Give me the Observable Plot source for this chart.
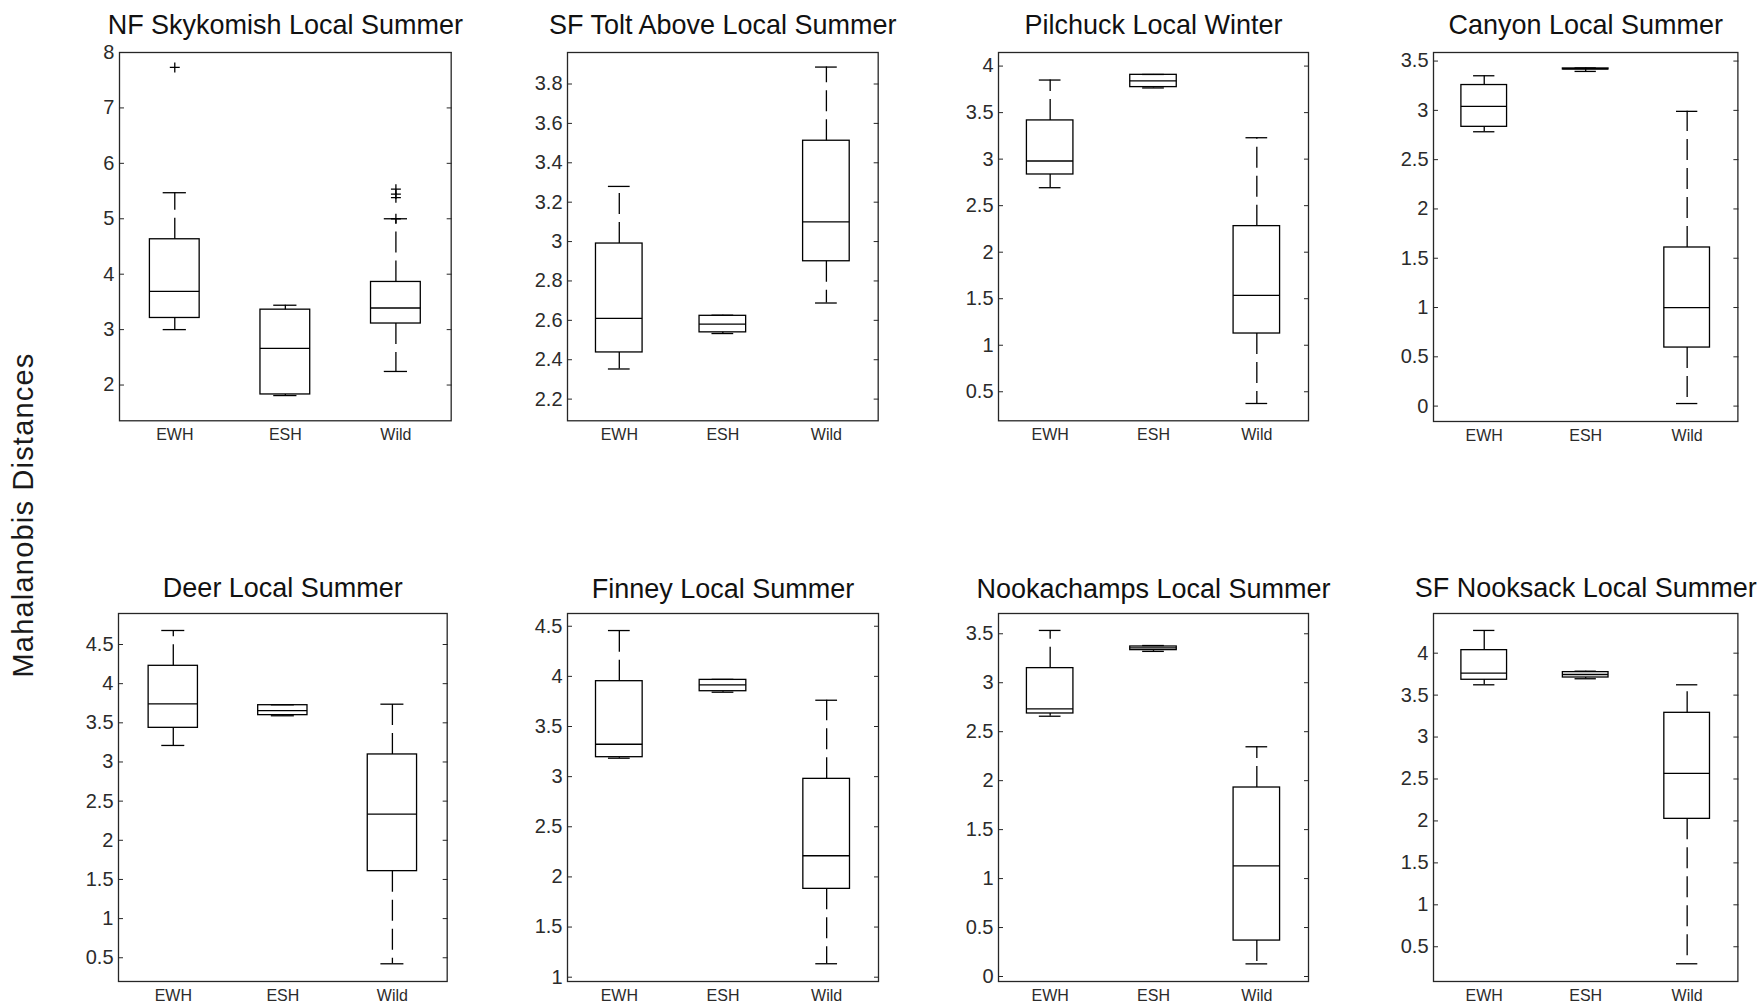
<!DOCTYPE html>
<html>
<head>
<meta charset="utf-8">
<script src="https://cdn.jsdelivr.net/npm/d3@7"></script>
<script src="https://cdn.jsdelivr.net/npm/@observablehq/plot@0.6"></script>
<style>
  html, body { margin: 0; padding: 0; background: #fff; overflow: hidden; }
  #chart { position: relative; width: 1759px; height: 1004px; background: #fff;
           font-family: "Liberation Sans", Arial, Helvetica, sans-serif; }
  #chart svg { position: absolute; }
  #ylabel { position: absolute; left: 23px; top: 515px; white-space: nowrap;
            transform: translate(-50%, -50%) rotate(-90deg);
            font-size: 29px; line-height: 1; letter-spacing: 1.2px; color: #1a1a1a; }
</style>
</head>
<body>
<div id="chart"><div id="ylabel">Mahalanobis Distances</div></div>
<script>
// Groups on every panel's x axis
const groups = ["EWH", "ESH", "Wild"];

// Panel titles (stock / run)
const titles = [
  "NF Skykomish Local Summer", "SF Tolt Above Local Summer",
  "Pilchuck Local Winter", "Canyon Local Summer",
  "Deer Local Summer", "Finney Local Summer",
  "Nookachamps Local Summer", "SF Nooksack Local Summer"
];

// Box statistics per panel, one value per group (EWH, ESH, Wild)
const whiskerLow = [
  [3.00, 1.81, 2.245], [2.353, 2.533, 2.688], [2.693, 3.765, 0.374], [2.783, 3.395, 0.026],
  [3.211, 3.590, 0.423], [3.184, 3.842, 1.134], [2.658, 3.320, 0.129], [3.623, 3.695, 0.297]
];
const quartile1 = [
  [3.21, 1.83, 3.11], [2.437, 2.539, 2.90], [2.835, 3.774, 1.126], [2.833, 3.415, 0.594],
  [3.436, 3.598, 1.606], [3.194, 3.852, 1.881], [2.686, 3.333, 0.367], [3.683, 3.710, 2.025]
];
const medians = [
  [3.69, 2.66, 3.39], [2.61, 2.581, 3.10], [2.98, 3.842, 1.535], [3.04, 3.420, 1.00],
  [3.743, 3.657, 2.334], [3.323, 3.915, 2.211], [2.734, 3.355, 1.13], [3.762, 3.746, 2.566]
];
const quartile3 = [
  [4.63, 3.36, 3.86], [2.99, 2.623, 3.512], [3.416, 3.906, 2.28], [3.257, 3.425, 1.609],
  [4.228, 3.725, 3.096], [3.952, 3.965, 2.978], [3.149, 3.370, 1.93], [4.036, 3.774, 3.289]
];
const whiskerHigh = [
  [5.47, 3.44, 5.00], [3.28, 2.626, 3.886], [3.85, 3.910, 3.23], [3.351, 3.430, 2.99],
  [4.679, 3.730, 3.738], [4.457, 3.970, 3.762], [3.534, 3.380, 2.346], [4.271, 3.785, 3.623]
];

// Outlying observations
const outlierPanel = [0, 0, 0, 0, 0];
const outlierGroup = ["EWH", "Wild", "Wild", "Wild", "Wild"];
const outlierValue = [7.73, 5.00, 5.38, 5.445, 5.535];

// Y scale extents and tick values per panel
const yDomains = [
  [1.355, 8], [2.09, 3.96], [0.188, 4.146], [-0.156, 3.587],
  [0.197, 4.896], [0.957, 4.627], [-0.051, 3.707], [0.086, 4.473]
];
const yTicks = [
  [2, 3, 4, 5, 6, 7, 8],
  [2.2, 2.4, 2.6, 2.8, 3, 3.2, 3.4, 3.6, 3.8],
  [0.5, 1, 1.5, 2, 2.5, 3, 3.5, 4],
  [0, 0.5, 1, 1.5, 2, 2.5, 3, 3.5],
  [0.5, 1, 1.5, 2, 2.5, 3, 3.5, 4, 4.5],
  [1, 1.5, 2, 2.5, 3, 3.5, 4, 4.5],
  [0, 0.5, 1, 1.5, 2, 2.5, 3, 3.5],
  [0.5, 1, 1.5, 2, 2.5, 3, 3.5, 4]
];

// Page layout: plot frame [left, top, right, bottom] in page pixels
const frames = [
  [119, 51.7, 450.7, 420], [567, 51.7, 877.7, 420], [998, 51.7, 1308, 420], [1433.3, 51.7, 1737.7, 420.7],
  [118, 613, 446.7, 981], [567, 613, 878, 981], [998, 613, 1308, 981], [1433.3, 613, 1737.7, 981]
];
const titleBaseline = [33, 597];

const ML = 70, MR = 12, MT = 50, MB = 40;
const boxHalf = 0.225, capHalf = 0.105;
const ink = "#000", axisInk = "#262626", textInk = "#2b2b2b";
const font = '"Liberation Sans", Arial, Helvetica, sans-serif';

const chart = document.getElementById("chart");

titles.forEach((title, p) => {
  const [fl, ft, fr, fb] = frames[p];
  const w = fr - fl, h = fb - ft;
  const rows = groups.map((g, i) => ({
    group: g, pos: i + 1,
    lo: whiskerLow[p][i], q1: quartile1[p][i], med: medians[p][i],
    q3: quartile3[p][i], hi: whiskerHigh[p][i]
  }));
  const outs = outlierValue
    .map((v, k) => ({panel: outlierPanel[k], pos: groups.indexOf(outlierGroup[k]) + 1, value: v}))
    .filter(o => o.panel === p);
  const row = p < 4 ? 0 : 1;

  const svg = Plot.plot({
    width: w + ML + MR,
    height: h + MT + MB,
    marginLeft: ML, marginRight: MR, marginTop: MT, marginBottom: MB,
    style: {fontFamily: font, overflow: "visible", background: "transparent", color: textInk},
    x: {domain: [0.5, 3.5], axis: null, label: null},
    y: {domain: yDomains[p], axis: null, label: null},
    marks: [
      // inward tick marks on both sides
      Plot.axisY(yTicks[p], {anchor: "left", tickSize: -5, fill: "none", stroke: axisInk, strokeWidth: 1, label: null}),
      Plot.axisY(yTicks[p], {anchor: "right", tickSize: -5, fill: "none", stroke: axisInk, strokeWidth: 1, label: null}),
      // tick labels
      Plot.axisY(yTicks[p], {anchor: "left", tickSize: 0, tickPadding: 5, fontSize: 20, fill: textInk,
                             tickFormat: d => String(d), label: null}),
      Plot.axisX([1, 2, 3], {anchor: "bottom", tickSize: 0, tickPadding: 8, fontSize: 16, fill: textInk,
                             tickFormat: d => groups[d - 1], label: null}),
      Plot.frame({stroke: axisInk, strokeWidth: 1.3}),
      // dashed whiskers, drawn outward from the box edges
      Plot.ruleX(rows, {x: "pos", y1: "q3", y2: "hi", stroke: ink, strokeWidth: 1.3, strokeDasharray: "21,8"}),
      Plot.ruleX(rows, {x: "pos", y1: "q1", y2: "lo", stroke: ink, strokeWidth: 1.3, strokeDasharray: "21,8"}),
      // whisker caps
      Plot.ruleY(rows, {y: "hi", x1: d => d.pos - capHalf, x2: d => d.pos + capHalf, stroke: ink, strokeWidth: 1.3}),
      Plot.ruleY(rows, {y: "lo", x1: d => d.pos - capHalf, x2: d => d.pos + capHalf, stroke: ink, strokeWidth: 1.3}),
      // interquartile boxes and medians
      Plot.rect(rows, {x1: d => d.pos - boxHalf, x2: d => d.pos + boxHalf, y1: "q1", y2: "q3",
                       fill: "none", stroke: ink, strokeWidth: 1.3}),
      Plot.ruleY(rows, {y: "med", x1: d => d.pos - boxHalf, x2: d => d.pos + boxHalf, stroke: ink, strokeWidth: 1.3}),
      // outliers
      Plot.dot(outs, {x: "pos", y: "value", symbol: "plus", r: 3.3, stroke: ink, strokeWidth: 1.3}),
      // panel title
      Plot.text([title], {text: d => d, frameAnchor: "top", dy: -(ft - titleBaseline[row]),
                          lineAnchor: "bottom", fontSize: 27, fill: "#111"})
    ]
  });
  svg.style.left = (fl - ML) + "px";
  svg.style.top = (ft - MT) + "px";
  chart.appendChild(svg);
});
</script>
</body>
</html>
